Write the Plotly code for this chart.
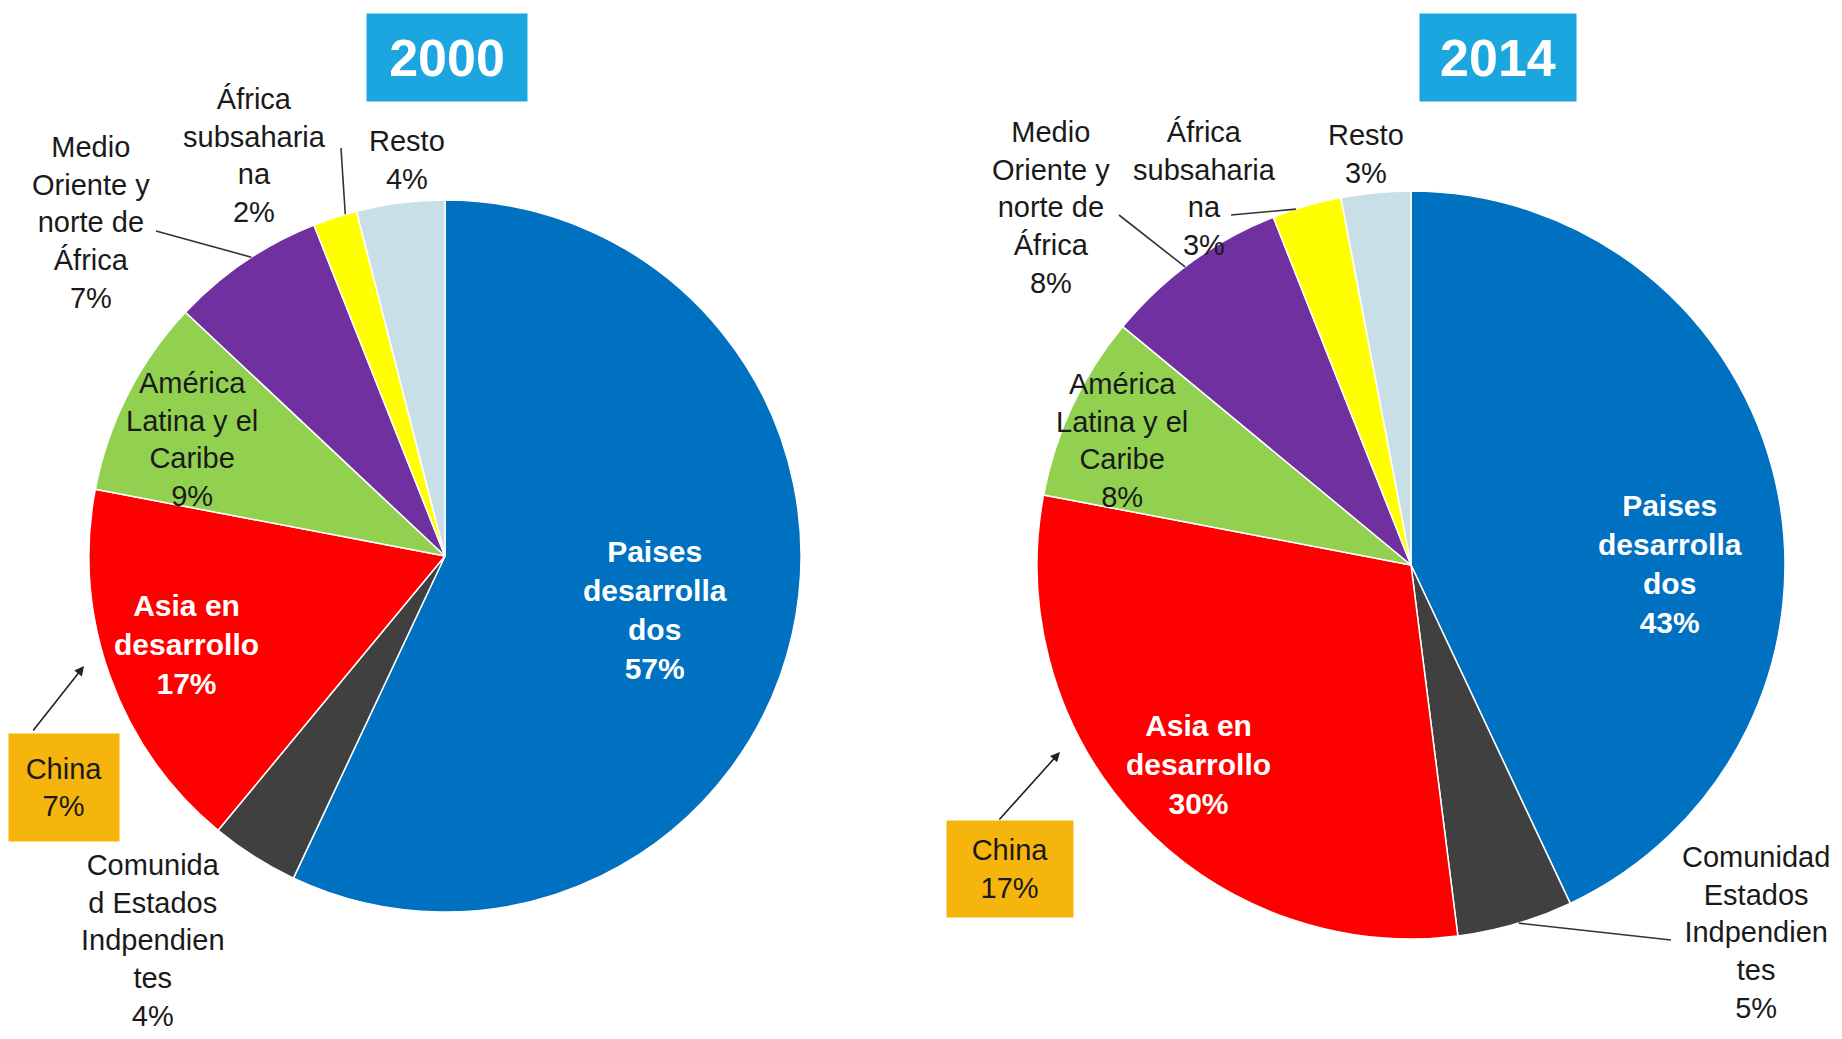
import math
import plotly.graph_objects as go

# ---------------- data ----------------
categories = [
    "Paises desarrollados",
    "Comunidad Estados Independientes",
    "Asia en desarrollo",
    "América Latina y el Caribe",
    "Medio Oriente y norte de África",
    "África subsahariana",
    "Resto",
]
values_2000 = [57, 4, 17, 9, 7, 2, 4]
values_2014 = [43, 5, 30, 8, 8, 3, 3]
china_2000 = 7
china_2014 = 17
years = ["2000", "2014"]

# display labels (line breaks as in the original)
labels_2000 = [
    "Paises<br>desarrolla<br>dos",
    "Comunida<br>d Estados<br>Indpendien<br>tes",
    "Asia en<br>desarrollo",
    "América<br>Latina y el<br>Caribe",
    "Medio<br>Oriente y<br>norte de<br>África",
    "África<br>subsaharia<br>na",
    "Resto",
]
labels_2014 = [
    "Paises<br>desarrolla<br>dos",
    "Comunidad<br>Estados<br>Indpendien<br>tes",
    "Asia en<br>desarrollo",
    "América<br>Latina y el<br>Caribe",
    "Medio<br>Oriente y<br>norte de<br>África",
    "África<br>subsaharia<br>na",
    "Resto",
]

colors = ["#0070c0", "#404040", "#ff0000", "#92d050", "#7030a0", "#ffff00", "#c9dfe8"]

# ---------------- layout geometry ----------------
PAGE_W, PAGE_H = 1842, 1039
OFF = 8  # default body margin of the html page
W, H = PAGE_W - 2 * OFF, PAGE_H - 2 * OFF
FONT = "Liberation Sans, Arial, sans-serif"

def fx(px):
    return (px - OFF) / W

def fy(py):
    return 1 - (py - OFF) / H

pies = [
    dict(cx=445, cy=556, r=356),
    dict(cx=1411, cy=565, r=374),
]

def edge_point(p, vals, idx, frac, rf=1.0):
    total = sum(vals)
    ang = (sum(vals[:idx]) + frac * vals[idx]) / total * 360.0
    a = math.radians(ang)
    return p["cx"] + p["r"] * rf * math.sin(a), p["cy"] - p["r"] * rf * math.cos(a)

fig = go.Figure()
for p, vals, yr in zip(pies, [values_2000, values_2014], years):
    fig.add_trace(go.Pie(
        values=vals,
        labels=categories,
        sort=False,
        direction="clockwise",
        rotation=0,
        textinfo="none",
        hoverinfo="label+percent",
        marker=dict(colors=colors, line=dict(color="#ffffff", width=1.5)),
        domain=dict(x=[fx(p["cx"] - p["r"]), fx(p["cx"] + p["r"])],
                    y=[fy(p["cy"] + p["r"]), fy(p["cy"] - p["r"])]),
        name=yr,
        showlegend=False,
    ))

annotations = []
shapes = []

def text_ann(x, y, text, size=29, color="#1a1a1a", bold=False):
    if bold:
        text = "<b>" + text.replace("<br>", "</b><br><b>") + "</b>"
    annotations.append(dict(
        x=fx(x), y=fy(y), xref="paper", yref="paper", text=text, showarrow=False,
        xanchor="center", yanchor="middle", align="center",
        font=dict(family=FONT, size=size, color=color),
    ))

# label positions (px) for each chart: index -> (x, y, style)
pos_2000 = {
    0: (655, 610, "in"),
    1: (153, 940, "out"),
    2: (186, 644, "in"),
    3: (192, 439, "dark"),
    4: (91, 222, "out"),
    5: (254, 156, "out"),
    6: (407, 160, "out"),
}
pos_2014 = {
    0: (1670, 564, "in"),
    1: (1756, 932, "out"),
    2: (1198, 764, "in"),
    3: (1122, 440, "dark"),
    4: (1051, 207, "out"),
    5: (1204, 188, "out"),
    6: (1366, 154, "out"),
}

for labels, vals, pos in [(labels_2000, values_2000, pos_2000), (labels_2014, values_2014, pos_2014)]:
    for i, (lab, v) in enumerate(zip(labels, vals)):
        x, y, style = pos[i]
        txt = f"{lab}<br>{v}%"
        if style == "in":
            text_ann(x, y, txt, size=30, color="#ffffff", bold=True)
        else:
            text_ann(x, y, txt, size=29, color="#1a1a1a")

# title boxes
for (x, y, w, h), yr in zip([(447, 58, 160, 87), (1498, 58, 156, 87)], years):
    annotations.append(dict(
        x=fx(x), y=fy(y), xref="paper", yref="paper", text=f"<b>{yr}</b>", showarrow=False,
        xanchor="center", yanchor="middle", width=w, height=h, bgcolor="#1ca6df",
        borderpad=0, font=dict(family=FONT, size=52, color="#ffffff"),
    ))

# China boxes
for (x, y, w, h), v in zip([(64, 787, 110, 107), (1010, 869, 126, 96)], [china_2000, china_2014]):
    annotations.append(dict(
        x=fx(x), y=fy(y), xref="paper", yref="paper", text=f"China<br>{v}%", showarrow=False,
        xanchor="center", yanchor="middle", width=w, height=h, bgcolor="#f5b50d",
        borderpad=0, font=dict(family=FONT, size=29, color="#1a1a1a"),
    ))

# arrows from China boxes to the Asia slice
for (hx, hy, tx, ty) in [(84, 666, 32, 732), (1060, 752, 998, 821)]:
    annotations.append(dict(
        x=fx(hx), y=fy(hy), xref="paper", yref="paper", text="", showarrow=True,
        ax=tx - hx, ay=ty - hy, arrowhead=2, arrowsize=1.2, arrowwidth=1.6,
        arrowcolor="#222222", standoff=0,
    ))

# leader lines (label side typed, slice side computed from the data)
leaders = [
    (0, values_2000, 4, 0.55, (156, 231)),
    (0, values_2000, 5, 0.74, (341, 148)),
    (1, values_2014, 4, 0.46, (1119, 215)),
    (1, values_2014, 5, 0.34, (1231, 215)),
    (1, values_2014, 1, 0.47, (1671, 940)),
]
for pi, vals, idx, frac, (lx, ly) in leaders:
    ex, ey = edge_point(pies[pi], vals, idx, frac, 1.0)
    shapes.append(dict(type="line", xref="paper", yref="paper",
                       x0=fx(lx), y0=fy(ly), x1=fx(ex), y1=fy(ey),
                       line=dict(color="#333333", width=1.6)))

fig.update_layout(
    width=W, height=H,
    margin=dict(l=0, r=0, t=0, b=0),
    paper_bgcolor="#ffffff", plot_bgcolor="#ffffff",
    showlegend=False,
    annotations=annotations,
    shapes=shapes,
    font=dict(family=FONT),
)

fig.write_html("out.html")
